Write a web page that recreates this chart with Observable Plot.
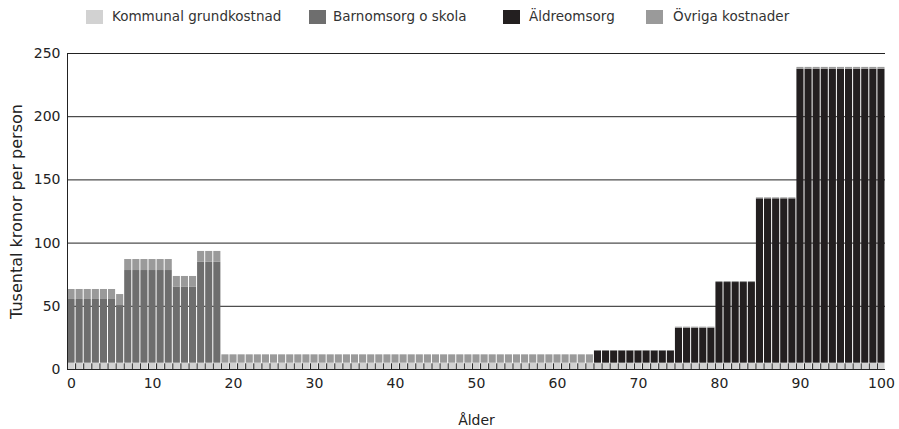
<!DOCTYPE html>
<html>
<head>
<meta charset="utf-8">
<script src="https://cdn.jsdelivr.net/npm/d3@7"></script>
<script src="https://cdn.jsdelivr.net/npm/@observablehq/plot@0.6"></script>
<style>
  body { margin: 0; background: #fff; font-family: "DejaVu Sans", sans-serif; }
  #wrap { position: relative; width: 899px; height: 429px; }
  #legend { position: relative; height: 34px; }
  .sw { position: absolute; top: 10px; width: 17px; height: 14px; }
  .lt { position: absolute; top: 8px; font-size: 13.5px; color: #333; white-space: nowrap; }
</style>
</head>
<body>
<div id="wrap">
  <div id="legend"></div>
  <div id="chart"></div>
</div>
<script>
const categories = ["Kommunal grundkostnad", "Barnomsorg o skola", "Äldreomsorg", "Övriga kostnader"];
const colors = ["#d2d2d2", "#6e6e6e", "#231f20", "#9a9a9a"];

const ages = [
  0,1,2,3,4,5,6,7,8,9,10,11,12,13,14,15,16,17,18,19,20,
  21,22,23,24,25,26,27,28,29,30,31,32,33,34,35,36,37,38,39,40,
  41,42,43,44,45,46,47,48,49,50,51,52,53,54,55,56,57,58,59,60,
  61,62,63,64,65,66,67,68,69,70,71,72,73,74,75,76,77,78,79,80,
  81,82,83,84,85,86,87,88,89,90,91,92,93,94,95,96,97,98,99,100
];

const kommunal = [
  5,5,5,5,5,5,5,5,5,5,5,5,5,5,5,5,5,5,5,5,5,
  5,5,5,5,5,5,5,5,5,5,5,5,5,5,5,5,5,5,5,5,
  5,5,5,5,5,5,5,5,5,5,5,5,5,5,5,5,5,5,5,5,
  5,5,5,5,5,5,5,5,5,5,5,5,5,5,5,5,5,5,5,5,
  5,5,5,5,5,5,5,5,5,5,5,5,5,5,5,5,5,5,5,5
];

const barnomsorg = [
  50.4,50.4,50.4,50.4,50.4,50.4,45.6,73.3,73.3,73.3,73.3,73.3,73.3,60.3,60.3,60.3,79.8,79.8,79.8,0,0,
  0,0,0,0,0,0,0,0,0,0,0,0,0,0,0,0,0,0,0,0,
  0,0,0,0,0,0,0,0,0,0,0,0,0,0,0,0,0,0,0,0,
  0,0,0,0,0,0,0,0,0,0,0,0,0,0,0,0,0,0,0,0,
  0,0,0,0,0,0,0,0,0,0,0,0,0,0,0,0,0,0,0,0
];

const aldreomsorg = [
  0,0,0,0,0,0,0,0,0,0,0,0,0,0,0,0,0,0,0,0,0,
  0,0,0,0,0,0,0,0,0,0,0,0,0,0,0,0,0,0,0,0,
  0,0,0,0,0,0,0,0,0,0,0,0,0,0,0,0,0,0,0,0,
  0,0,0,0,9.7,9.7,9.7,9.7,9.7,9.7,9.7,9.7,9.7,9.7,27.7,27.7,27.7,27.7,27.7,63.8,
  63.8,63.8,63.8,63.8,130,130,130,130,130,232.5,232.5,232.5,232.5,232.5,232.5,232.5,232.5,232.5,232.5,232.5
];

const ovriga = [
  7.9,7.9,7.9,7.9,7.9,7.9,8.7,8.7,8.7,8.7,8.7,8.7,8.7,8.3,8.3,8.3,8.6,8.6,8.6,6.6,6.6,
  6.6,6.6,6.6,6.6,6.6,6.6,6.6,6.6,6.6,6.6,6.6,6.6,6.6,6.6,6.6,6.6,6.6,6.6,6.6,6.6,
  6.6,6.6,6.6,6.6,6.6,6.6,6.6,6.6,6.6,6.6,6.6,6.6,6.6,6.6,6.6,6.6,6.6,6.6,6.6,6.6,
  6.6,6.6,6.6,6.6,0.3,0.3,0.3,0.3,0.3,0.3,0.3,0.3,0.3,0.3,0.8,0.8,0.8,0.8,0.8,0.8,
  0.8,0.8,0.8,0.8,0.8,0.8,0.8,0.8,0.8,1.5,1.5,1.5,1.5,1.5,1.5,1.5,1.5,1.5,1.5,1.5
];

const yTicks = [0, 50, 100, 150, 200, 250];
const xTicks = [0, 10, 20, 30, 40, 50, 60, 70, 80, 90, 100];

// Legend
const legend = document.getElementById("legend");
const swX = [86, 309, 503, 646];
const txX = [112, 333, 529, 673];
categories.forEach((c, i) => {
  const s = document.createElement("div");
  s.className = "sw"; s.style.left = swX[i] + "px"; s.style.background = colors[i];
  legend.appendChild(s);
  const t = document.createElement("div");
  t.className = "lt"; t.style.left = txX[i] + "px"; t.textContent = c;
  legend.appendChild(t);
});

const series = [kommunal, barnomsorg, aldreomsorg, ovriga];
const rows = [];
ages.forEach((a, j) => {
  categories.forEach((c, i) => {
    rows.push({age: a, cat: c, value: series[i][j]});
  });
});

const boundaries = ages.slice(0, -1).map(a => a + 0.5);

const plot = Plot.plot({
  width: 899,
  height: 395,
  marginLeft: 67,
  marginRight: 14,
  marginTop: 19,
  marginBottom: 60,
  style: {fontFamily: "DejaVu Sans, sans-serif", fontSize: "14px", color: "#222"},
  x: {domain: [ages[0] - 0.5, ages[ages.length - 1] + 0.5], ticks: xTicks, tickSize: 0, tickPadding: 9, label: null},
  y: {domain: [0, 250], ticks: yTicks, tickSize: 0, tickPadding: 7, label: null},
  color: {domain: categories, range: colors},
  marks: [
    Plot.ruleY(yTicks, {stroke: "#222", strokeWidth: 1}),
    Plot.rectY(rows, Plot.stackY({
      x1: d => d.age - 0.5,
      x2: d => d.age + 0.5,
      y: "value",
      fill: "cat",
      insetLeft: 0.5,
      insetRight: 0.5
    })),
    Plot.ruleX(boundaries, {x: d => d, y1: 0, y2: 4.5, stroke: "#222", strokeWidth: 1}),
    Plot.ruleX([ages[0] - 0.5], {y1: 0, y2: 250, stroke: "#222", strokeWidth: 1}),
    Plot.axisX({ticks: xTicks, tickSize: 0, tickPadding: 9, label: null, fontSize: 14}),
    Plot.axisY({ticks: yTicks, tickSize: 0, tickPadding: 7, label: null, fontSize: 14}),
    Plot.text(["Ålder"], {frameAnchor: "bottom", lineAnchor: "middle", dy: 51, fontSize: 14, fill: "#222"}),
    Plot.text(["Tusental kronor per person"], {frameAnchor: "left", textAnchor: "middle", lineAnchor: "middle", dx: -51, rotate: -90, fontSize: 16, fill: "#222"})
  ]
});
document.getElementById("chart").appendChild(plot);
</script>
</body>
</html>
